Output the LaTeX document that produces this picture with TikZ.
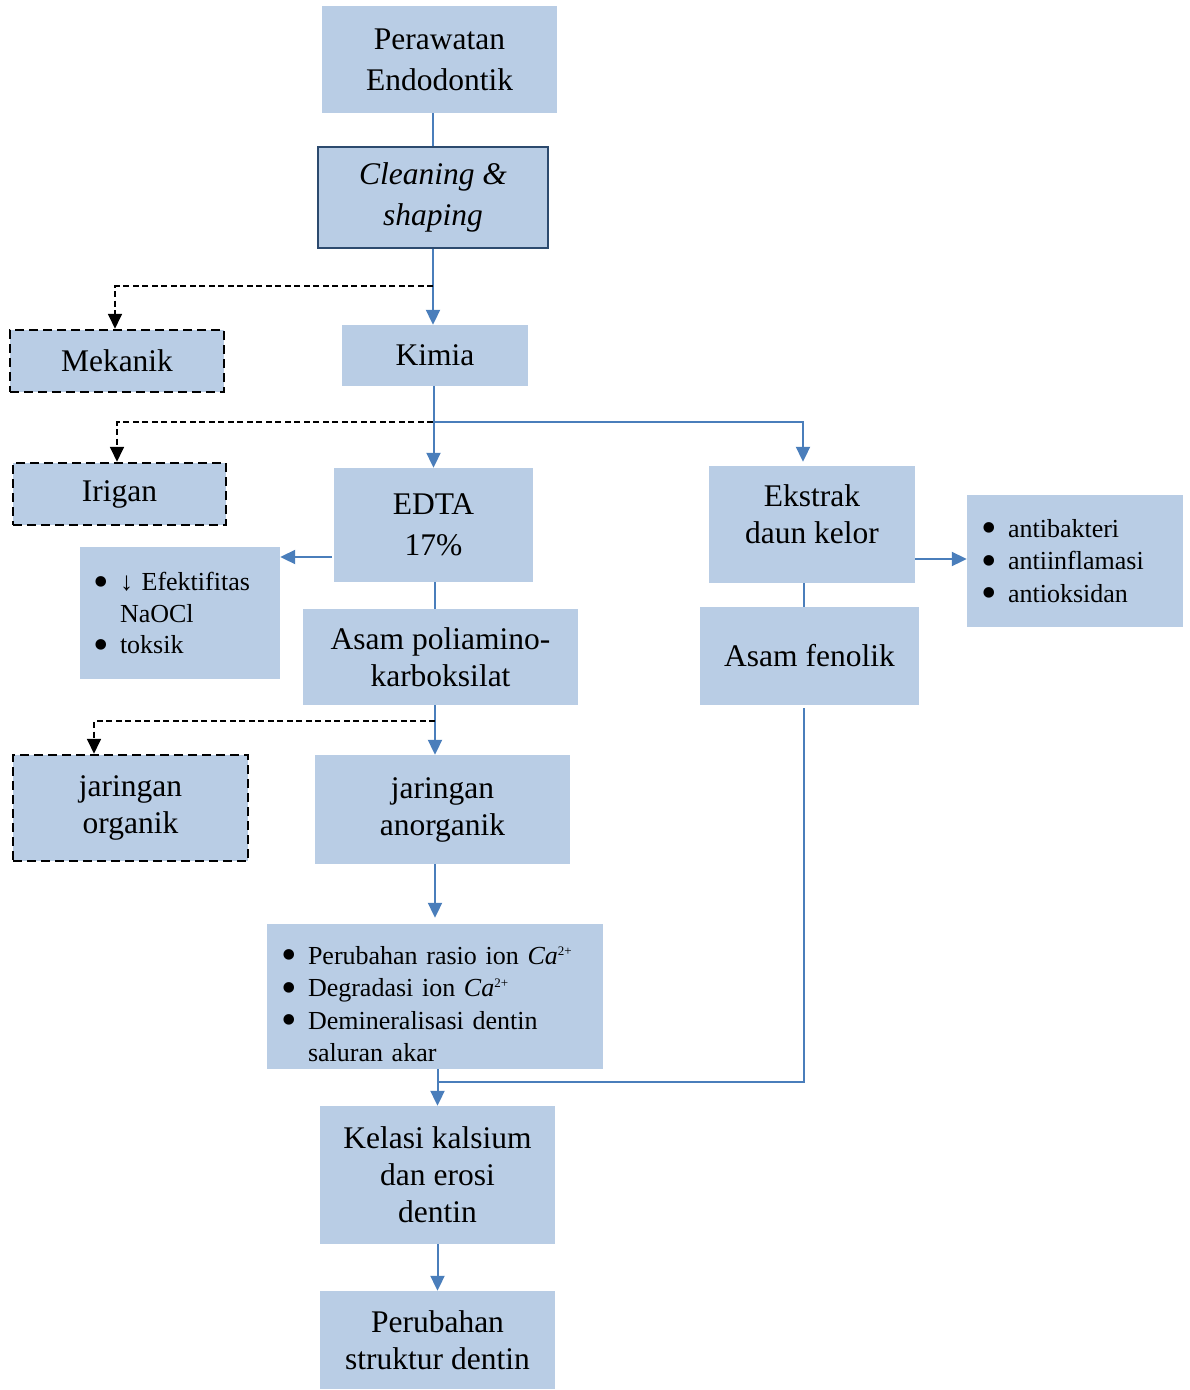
\documentclass[tikz,border=0pt]{standalone}
\usepackage{fontspec}
\setmainfont{Liberation Serif}
\usetikzlibrary{arrows.meta}
\definecolor{boxfill}{HTML}{B9CDE5}
\definecolor{lineblue}{HTML}{4A7EBB}
\definecolor{darkborder}{HTML}{2C4A6E}
\newcommand{\fA}{\fontsize{31.5}{41}\selectfont}
\newcommand{\fB}{\fontsize{31.5}{37}\selectfont}
\newcommand{\fL}{\fontsize{26}{32.5}\selectfont}
\newcommand{\fM}{\fontsize{26}{31.5}\selectfont}
\newcommand{\bul}{\makebox[27pt][l]{\smash{\raisebox{-5.5pt}{\scalebox{1.7}{•}}}}}
\newcommand{\ind}{\hspace*{27pt}}
\newcommand{\casup}{\textit{Ca}\raisebox{9pt}{\fontsize{13}{13}\selectfont 2+}}
\begin{document}
\begin{tikzpicture}[x=1pt,y=-1pt,
 box/.style={fill=boxfill, inner sep=0pt, align=center, anchor=center},
 dbox/.style={box, draw=black, line width=2.5pt, dash pattern=on 9pt off 5pt},
 cbox/.style={box, draw=darkborder, line width=2.5pt},
 lbox/.style={fill=boxfill, inner ysep=0pt, inner xsep=14pt, align=left, anchor=center, font=\fL},
 bl/.style={draw=lineblue, line width=2pt},
 bla/.style={bl, -{Triangle[width=14pt,length=15pt]}, color=lineblue},
 dsh/.style={draw=black, line width=1.8pt, dash pattern=on 6pt off 3.5pt, -{Triangle[width=14pt,length=15pt]}},
]
\useasboundingbox (0,0) rectangle (1190,1390);

% nodes
\node[box, font=\fA, minimum width=235pt, minimum height=107pt] (pera) at (439.5,59.5) {Perawatan\\Endodontik};
\node[cbox, font=\fA\itshape, minimum width=230pt, minimum height=101pt] (clean) at (433,197.5) {Cleaning \&\\shaping};
\node[dbox, font=\fA, minimum width=214pt, minimum height=62pt] (mek) at (117,361) {Mekanik};
\node[box, font=\fA, minimum width=186pt, minimum height=61pt] (kimia) at (435,355.5) {Kimia};
\node[dbox, font=\fA, minimum width=213pt, minimum height=62pt] (irigan) at (119.5,494) {Irigan};
\node[box, font=\fA, minimum width=199pt, minimum height=114pt] (edta) at (433.5,525) {EDTA\\17\%};
\node[lbox, font=\fM, inner xsep=13pt, minimum width=200pt, text width=174pt, minimum height=132pt] (eff) at (180,613)
  {\bul↓ Efektifitas\\\ind NaOCl\\\bul toksik};
\node[box, font=\fB, minimum width=275pt, minimum height=96pt] (poli) at (440.5,657) {Asam poliamino-\\karboksilat};
\node[box, font=\fB, minimum width=206pt, minimum height=117pt] (ekstrak) at (812,524.5) {Ekstrak\\daun kelor\\[-16pt]\mbox{}};
\node[lbox, minimum width=216pt, text width=188pt, minimum height=132pt] (rbox) at (1075,561)
  {\bul antibakteri\\\bul antiinflamasi\\\bul antioksidan};
\node[box, font=\fA, minimum width=219pt, minimum height=98pt] (fenolik) at (809.5,656) {Asam fenolik};
\node[dbox, font=\fB, minimum width=235pt, minimum height=106pt] (org) at (130.5,808) {jaringan\\organik};
\node[box, font=\fB, minimum width=255pt, minimum height=109pt] (anorg) at (442.5,809.5) {jaringan\\anorganik};
\node[lbox, minimum width=336pt, text width=308pt, minimum height=145pt] (rasio) at (435,996.5)
  {\rule{0pt}{33pt}\bul Perubahan rasio ion \casup\\\bul Degradasi ion \casup\\\bul Demineralisasi dentin\\\ind saluran akar};
\node[box, font=\fB, minimum width=235pt, minimum height=138pt] (kelasi) at (437.5,1175) {Kelasi kalsium\\dan erosi\\dentin};
\node[box, font=\fB, minimum width=235pt, minimum height=98pt] (struk) at (437.5,1340) {Perubahan\\struktur dentin};

% helper coordinates
\coordinate (j1) at (433,286);
\coordinate (j2) at (433,422);
\coordinate (j3) at (332,557);
\coordinate (x435) at (435,0);
\coordinate (x94) at (94,0);
\coordinate (j5) at (435,721);
\coordinate (j6) at (438,1082);
\coordinate (x804) at (804,0);
\coordinate (j7) at (916,559);

% connectors
\draw[bl] (clean.north |- pera.south) -- (clean.north);
\draw[bla] (clean.south) -- (clean.south |- kimia.north);
\draw[dsh] (j1) -| ([xshift=-2pt]mek.north);
\draw[bla] (kimia.south -| edta.north) -- (edta.north);
\draw[bla, shorten >=4pt] (j2) -| ([xshift=-9pt]ekstrak.north);
\draw[dsh] (j2) -| ([xshift=-2.5pt]irigan.north);
\draw[bla] (j3) -- (eff.east |- j3);
\draw[bl] (edta.south -| x435) -- (poli.north -| x435);
\draw[bla] (poli.south -| x435) -- (anorg.north -| x435);
\draw[dsh] (j5) -| (org.north -| x94);
\draw[bla, shorten >=6pt] (anorg.south -| x435) -- (rasio.north -| x435);
\draw[bla] (rasio.south -| kelasi.north) -- (kelasi.north);
\draw[bl] ([yshift=-3pt]fenolik.south -| x804) |- (j6);
\draw[bla] (kelasi.south) -- (struk.north);
\draw[bla] (ekstrak.east |- j7) -- (rbox.west |- j7);
\draw[bl] (ekstrak.south -| x804) -- (fenolik.north -| x804);
\end{tikzpicture}
\end{document}
